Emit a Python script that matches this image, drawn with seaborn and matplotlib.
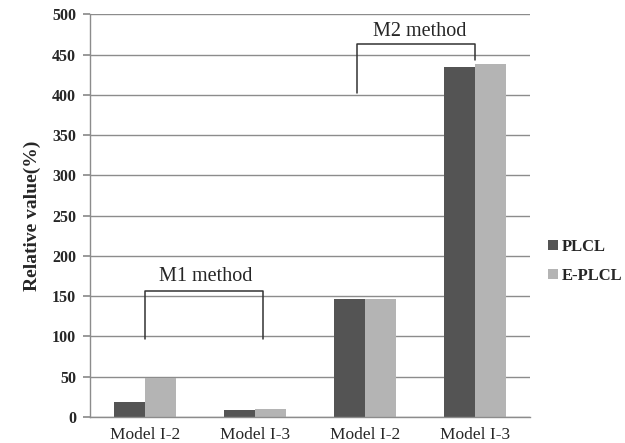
import matplotlib
matplotlib.use("Agg")
import matplotlib.pyplot as plt
from matplotlib.patches import Patch
import pandas as pd
import seaborn as sns

# ── Data ──────────────────────────────────────────────────────────────────────
groups = ["M1 Model I-2", "M1 Model I-3", "M2 Model I-2", "M2 Model I-3"]
tick_labels = ["Model I-2", "Model I-3", "Model I-2", "Model I-3"]
plcl = [19, 9, 146, 435]
eplcl = [48, 10, 147, 438]
series = ["PLCL", "E-PLCL"]
colors = ["#545454", "#b4b4b4"]

df = pd.DataFrame({
    "group": groups * 2,
    "series": [series[0]] * 4 + [series[1]] * 4,
    "value": plcl + eplcl,
})

sns.set_theme(style="white")
plt.rcParams["font.family"] = ["Liberation Serif", "DejaVu Serif"]

fig = plt.figure(figsize=(6.25, 4.43), dpi=100)
ax = fig.add_axes([0.144, 0.0587, 0.704, 0.909])

sns.barplot(data=df, x="group", y="value", hue="series", order=groups,
            hue_order=series, palette=colors, width=0.57, gap=0,
            saturation=1, legend=False, linewidth=0, ax=ax)

ax.set_ylim(0, 500)
ax.set_xlim(-0.5, 3.5)
ax.set_yticks(range(0, 501, 50))
ax.yaxis.grid(True, color="#8c8c8c", linewidth=1)
ax.set_axisbelow(True)
for s in ["top", "right"]:
    ax.spines[s].set_visible(False)
for s in ["left", "bottom"]:
    ax.spines[s].set_color("#8c8c8c")
    ax.spines[s].set_linewidth(1)
ax.tick_params(axis="y", which="major", left=True, length=5, color="#8c8c8c",
               labelsize=11.5, pad=5)
ax.tick_params(axis="x", bottom=False, labelsize=12.5, pad=1)
for lab in ax.get_yticklabels():
    lab.set_fontweight("bold")
ax.set_xticks(range(len(groups)))
ax.set_xticklabels(tick_labels)
ax.set_xlabel("")
ax.set_ylabel("Relative value(%)", fontsize=14, fontweight="bold", labelpad=8)

# brackets
ax.plot([0, 0, 1.07, 1.07], [97, 156, 156, 97], color="#333333", lw=1.1)
ax.text(0.55, 163, "M1 method", ha="center", va="bottom", fontsize=14.5)
ax.plot([1.93, 1.93, 3.0, 3.0], [402, 463, 463, 443], color="#333333", lw=1.1)
ax.text(2.5, 467, "M2 method", ha="center", va="bottom", fontsize=14.5)

handles = [Patch(facecolor=c, edgecolor="none", label=l) for c, l in zip(colors, series)]
leg = fig.legend(handles=handles, loc="center left", bbox_to_anchor=(0.852, 0.41),
                 frameon=False, handlelength=0.6, handleheight=0.6, handletextpad=0.25,
                 labelspacing=0.8, prop={"weight": "bold", "size": 12})

fig.savefig("out.png", dpi=100)
